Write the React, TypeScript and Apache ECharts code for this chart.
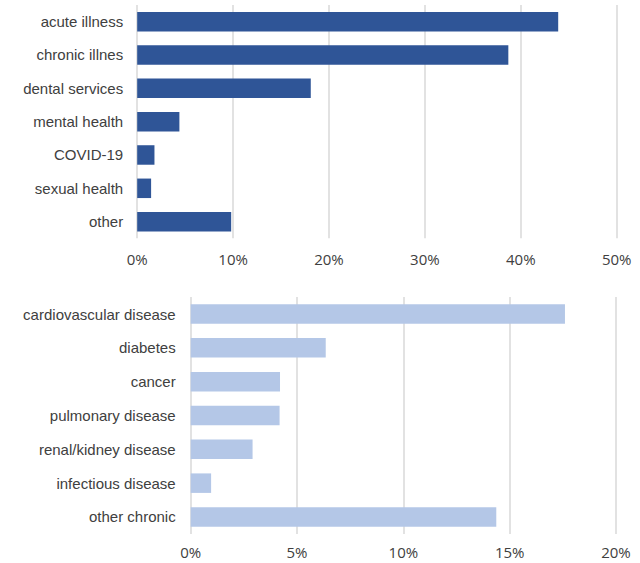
import React, { useEffect, useRef } from "react";
import * as echarts from "echarts";

const reasonCategories = [
  "acute illness",
  "chronic illnes",
  "dental services",
  "mental health",
  "COVID-19",
  "sexual health",
  "other",
];
const reasonValues = [43.9, 38.7, 18.1, 4.4, 1.8, 1.45, 9.8];

const chronicCategories = [
  "cardiovascular disease",
  "diabetes",
  "cancer",
  "pulmonary disease",
  "renal/kidney disease",
  "infectious disease",
  "other chronic",
];
const chronicValues = [17.6, 6.35, 4.2, 4.18, 2.91, 0.96, 14.37];

const topTicks = { min: 0, max: 50, interval: 10 };
const bottomTicks = { min: 0, max: 20, interval: 5 };

const TEXT = "#404040";
const GRID = "#d9d9d9";

export default function App() {
  const ref = useRef<HTMLDivElement>(null);

  useEffect(() => {
    if (!ref.current) return;
    const chart = echarts.init(ref.current, undefined, { renderer: "svg" });
    const valueAxisCommon = (i: number, t: { min: number; max: number; interval: number }, margin: number) => ({
      type: "value",
      gridIndex: i,
      min: t.min,
      max: t.max,
      interval: t.interval,
      axisLine: { show: false },
      axisTick: { show: false },
      splitLine: { show: true, lineStyle: { color: GRID, width: 1.5 } },
      axisLabel: {
        formatter: "{value}%",
        fontFamily: "Open Sans",
        fontSize: 15,
        color: TEXT,
        margin,
      },
    });
    const catAxisCommon = (i: number, data: string[], margin: number) => ({
      type: "category",
      gridIndex: i,
      data,
      inverse: true,
      axisLine: { show: false },
      axisTick: { show: false },
      axisLabel: {
        fontFamily: "Liberation Sans",
        fontSize: 15,
        color: TEXT,
        margin,
      },
    });
    chart.setOption({
      animation: false,
      grid: [
        { left: 137.2, width: 479.5, top: 5, height: 233.3 },
        { left: 190.7, width: 425.3, top: 297.1, height: 236.8 },
      ],
      xAxis: [valueAxisCommon(0, topTicks, 13), valueAxisCommon(1, bottomTicks, 11)],
      yAxis: [catAxisCommon(0, reasonCategories, 14), catAxisCommon(1, chronicCategories, 15)],
      series: [
        {
          type: "bar",
          xAxisIndex: 0,
          yAxisIndex: 0,
          data: reasonValues,
          barWidth: 19.5,
          itemStyle: { color: "#2f5597" },
        },
        {
          type: "bar",
          xAxisIndex: 1,
          yAxisIndex: 1,
          data: chronicValues,
          barWidth: 19.5,
          itemStyle: { color: "#b4c7e7" },
        },
      ],
    });
    return () => chart.dispose();
  }, []);

  return (
    <div
      ref={ref}
      style={{ position: "absolute", left: 0, top: 0, width: 640, height: 563, background: "#fff" }}
    />
  );
}
